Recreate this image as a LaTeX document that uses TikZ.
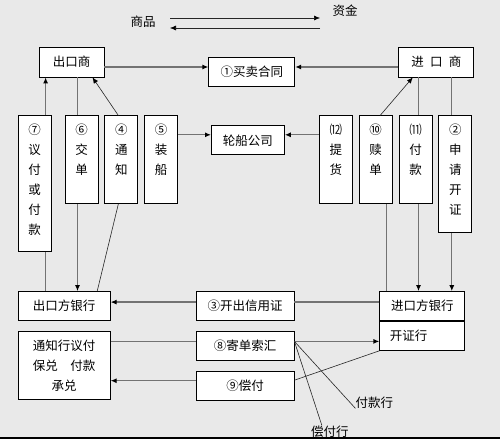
\documentclass[tikz,border=0pt]{standalone}
\usepackage{fontspec}
\newfontfamily\cjk{Noto Sans CJK SC}
\usetikzlibrary{positioning,arrows.meta}
\definecolor{bggray}{RGB}{233,233,233}
\definecolor{linegray}{RGB}{115,115,115}
\newcommand{\vcol}[2]{\parbox[c][#1][t]{30pt}{\centering\rule{0pt}{19pt}#2}}

\begin{document}
\begin{tikzpicture}[x=1pt,y=1pt,
    font=\cjk\fontsize{12.5}{20}\selectfont,
    box/.style={draw,rectangle,fill=white,line width=0.8pt,inner sep=0pt,minimum height=29pt},
    colbox/.style={draw,rectangle,fill=white,line width=0.8pt,inner sep=0pt,minimum width=33pt},
    link/.style={draw=linegray,line width=1.2pt},
    thinlink/.style={draw=black!85,line width=0.6pt},
    >={Latex[length=6pt,width=5pt,color=black]}]

\fill[bggray] (0,0) rectangle (500,439);
\useasboundingbox (0,0) rectangle (500,439);

% Legend
\node (goods) at (143,417) {商品};
\node (funds) at (345,428) {资金};
\coordinate (ga) at (170,421);
\coordinate (gb) at (320,421);
\coordinate (gc) at (320,411);
\coordinate (gd) at (170,411);
\draw[thinlink,->] (ga) -- (gb);
\draw[thinlink,->] (gc) -- (gd);

% Traders and contract
\node[box,
    minimum width=65pt,
    minimum height=30pt] (exporter) at (71.5,377) {出口商};

\node[box,
    right=294pt of exporter,
    minimum width=75pt,
    minimum height=30pt] (importer) {进\enspace 口\enspace 商};

\node[box,
    right=104pt of exporter,
    yshift=-9.5pt,
    minimum width=86pt] (contract) {①买卖合同};

% Steps on the exporter side
\node[colbox,
    below=38pt of exporter.south west,
    anchor=north west,
    xshift=26pt] (docs) {\vcol{88pt}{⑥\\交\\单}};

\node[colbox,
    left=13pt of docs.north west,
    anchor=north east] (negotiate) {\vcol{136pt}{⑦\\议\\付\\或\\付\\款}};

\node[colbox, right=6pt of docs] (notify) {\vcol{88pt}{④\\通\\知}};
\node[colbox, right=6pt of notify] (load) {\vcol{88pt}{⑤\\装\\船}};

\node[box,
    right=33pt of load.north east,
    anchor=north west,
    yshift=-10pt,
    minimum width=73pt] (shipco) {轮船公司};

% Steps on the importer side
\node[colbox,
    below=38pt of importer.south east,
    anchor=north east,
    xshift=-2pt] (apply) {\vcol{117pt}{②\\申\\请\\开\\证}};

\node[colbox,
    left=6pt of apply.north west,
    anchor=north east] (paying) {\vcol{88pt}{⑾\\付\\款}};

\node[colbox, left=6pt of paying] (redeem) {\vcol{88pt}{⑩\\赎\\单}};
\node[colbox, left=6pt of redeem] (pickup) {\vcol{88pt}{⑿\\提\\货}};

% Banks
\node[box,
    below=39pt of negotiate.south west,
    anchor=north west,
    minimum width=92pt] (exbank) {出口方银行};

\node[box, right=85pt of exbank, minimum width=98pt] (lc) {③开出信用证};
\node[box, right=85pt of lc, minimum width=85pt] (imbank) {进口方银行};

\node[box,
    below=0pt of imbank,
    minimum width=85pt,
    text width=65pt,
    inner xsep=10pt,
    align=left] (issuing) {开证行};

\node[box,
    below=10pt of exbank,
    minimum width=92pt,
    minimum height=68pt,
    align=center] (adv) {通知行议付\\保兑　付款\\承兑};

\node[box, below=10pt of lc, minimum width=98pt] (send) {⑧寄单索汇};
\node[box, below=10pt of send, minimum width=98pt] (reimb) {⑨偿付};

\node[inner sep=0pt, below right=50.5pt and 61pt of send.east] (paybank) {付款行};
\node[inner sep=0pt, below right=79.5pt and 16.5pt of send.east] (reimbank) {偿付行};

% Arrows
\draw[link,->] ([yshift=-5pt]exporter.east) -- ([yshift=-5pt]exporter.east -| contract.west);
\draw[link,->] ([yshift=-5pt]importer.west) -- ([yshift=-5pt]importer.west -| contract.east);

\draw[link,->] ([xshift=-6pt]negotiate.north east) -- ([xshift=-6pt]negotiate.north east |- exporter.south);
\draw[link] ([xshift=-6pt]negotiate.south east) -- ([xshift=-6pt]negotiate.south east |- exbank.north);

\draw[link] ([xshift=-4pt]docs.north |- exporter.south) -- ([xshift=-4pt]docs.north);
\draw[link,->] ([xshift=-4pt]docs.south) -- ([xshift=-4pt]docs.south |- exbank.north);

\draw[thinlink,->] ([xshift=-3pt]notify.north) -- ([xshift=21pt]exporter.south);
\draw[thinlink] ([xshift=-3pt]notify.south) -- ([xshift=33pt]exbank.north);

\draw[link,->] ([yshift=5.5pt]shipco.west -| load.east) -- ([yshift=5.5pt]shipco.west);
\draw[link,->] ([yshift=5.5pt]shipco.east -| pickup.west) -- ([yshift=5.5pt]shipco.east);

\draw[thinlink,->] ([xshift=4.5pt]redeem.north) -- ([xshift=-23.5pt]importer.south);
\draw[link] ([xshift=10.5pt]redeem.south) -- ([xshift=10.5pt]redeem.south |- imbank.north);

\draw[link] ([xshift=3pt]paying.north |- importer.south) -- ([xshift=3pt]paying.north);
\draw[link,->] ([xshift=3pt]paying.south) -- ([xshift=3pt]paying.south |- imbank.north);

\draw[link] ([xshift=-3.5pt]apply.north |- importer.south) -- ([xshift=-3.5pt]apply.north);
\draw[link,->] ([xshift=-3.5pt]apply.south) -- ([xshift=-3.5pt]apply.south |- imbank.north);

\draw[link] ([yshift=4pt]imbank.west) -- ([yshift=4pt]imbank.west -| lc.east);
\draw[link,->] ([yshift=4pt]lc.west) -- ([yshift=4pt]lc.west -| exbank.east);

\draw[link] ([yshift=4.5pt]send.west -| adv.east) -- ([yshift=4.5pt]send.west);
\draw[link,->] ([yshift=4.5pt]send.east) -- ([yshift=4.5pt]send.east -| issuing.west);

\draw[thinlink] (issuing.south west) -- ([yshift=5.5pt]reimb.east);
\draw[link,->] ([yshift=5pt]reimb.west) -- ([yshift=5pt]reimb.west -| adv.east);

\draw[thinlink] ([yshift=4.5pt]send.east) -- (paybank.south west);
\draw[thinlink] ([yshift=4.5pt]send.east) -- ([xshift=-8pt]reimbank.north);

\draw[line width=1.5pt] (0,1) -- (500,1);

\end{tikzpicture}
\end{document}
